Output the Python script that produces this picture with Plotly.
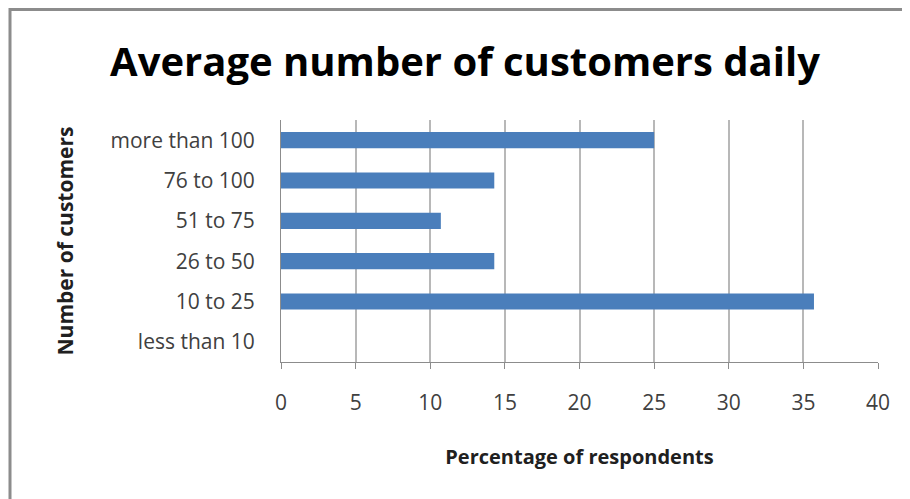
import plotly.graph_objects as go

categories = ["less than 10", "10 to 25", "26 to 50", "51 to 75", "76 to 100", "more than 100"]
percentages = [0, 35.71, 14.29, 10.71, 14.29, 25.0]
x_ticks = [0, 5, 10, 15, 20, 25, 30, 35, 40]

FONT = "Open Sans, sans-serif"
W, H = 910, 499
OFF = 8  # page body margin
L, T = 281 - OFF, 120 - OFF
pw, ph = 597, 242
R, B = W - L - pw, H - T - ph

def px_x(x):
    return (x - OFF - L) / pw

def px_y(y):
    return (T + ph - (y - OFF)) / ph

fig = go.Figure(go.Bar(
    y=categories, x=percentages, orientation="h",
    marker=dict(color="#4A7EBB", line=dict(width=0)),
    width=0.4,
))

fig.update_layout(
    width=W, height=H,
    margin=dict(l=L, r=R, t=T, b=B, autoexpand=False),
    paper_bgcolor="white", plot_bgcolor="white",
    showlegend=False,
    font=dict(family=FONT, color="#404040", size=21),
    title=dict(text="<b>Average number of customers daily</b>",
               font=dict(family=FONT, size=40, color="black"),
               x=(465 - OFF) / W, xanchor="center", xref="container",
               y=1 - (62 - OFF) / H, yanchor="middle", yref="container"),
    xaxis=dict(range=[0, 40], tickvals=x_ticks, ticktext=[str(v) for v in x_ticks],
               showgrid=True, gridcolor="#B8B8B8", gridwidth=2,
               showline=True, linecolor="#8C8C8C", linewidth=1,
               ticks="outside", ticklen=6, tickcolor="#8C8C8C",
               ticklabelstandoff=16, zeroline=False, automargin=False,
               title=dict(text="<b>Percentage of respondents</b>",
                          font=dict(family=FONT, size=20, color="#202020"),
                          standoff=34)),
    yaxis=dict(categoryorder="array", categoryarray=categories, range=[-0.5, 5.5],
               showgrid=False, showline=True, linecolor="#8C8C8C", linewidth=1,
               ticks="", ticklabelstandoff=21, automargin=False,
               title=dict(text="<b>Number of customers</b>",
                          font=dict(family=FONT, size=21, color="#202020"),
                          standoff=31)),
    shapes=[dict(type="rect", xref="paper", yref="paper",
                 x0=px_x(10), x1=px_x(960), y0=px_y(560), y1=px_y(9.5),
                 line=dict(color="#8C8C8C", width=3), fillcolor="rgba(0,0,0,0)",
                 layer="below")],
)

fig.write_html("out.html")
